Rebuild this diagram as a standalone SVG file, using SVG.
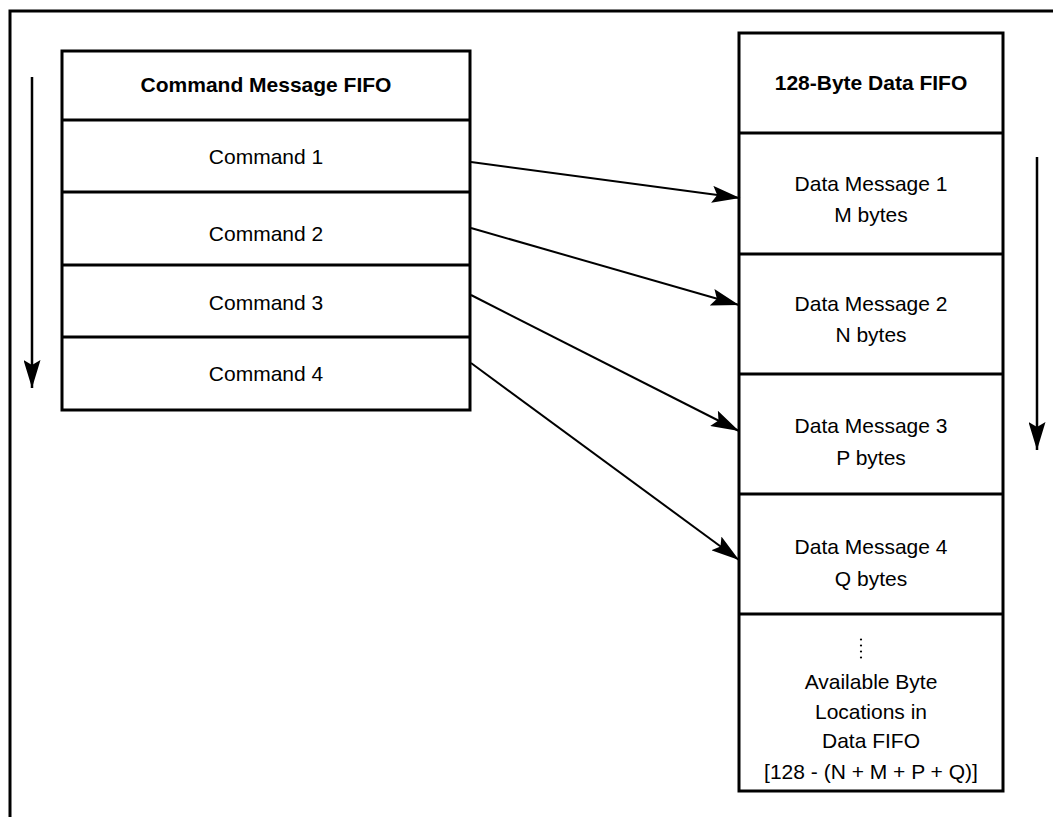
<svg xmlns="http://www.w3.org/2000/svg" width="1053" height="817" viewBox="0 0 1053 817">
<style>
.box{fill:#fff;stroke:#000;stroke-width:3}
.div{stroke:#000;stroke-width:3}
.frame{stroke:#000;stroke-width:3;fill:none}
.conn{stroke:#000;stroke-width:2;fill:none}
.flow{stroke:#000;stroke-width:2.5;fill:none}
text{font-family:"Liberation Sans",Arial,sans-serif;font-size:21px;fill:#000;text-anchor:middle}
.b{font-weight:bold}
</style>
<defs>
<marker id="ah" markerUnits="userSpaceOnUse" markerWidth="28" markerHeight="17" refX="28" refY="8.5" orient="auto" viewBox="0 0 28 17">
<path d="M0,0 L28,8.5 L0,17 L5,8.5 Z" fill="#000"/>
</marker>
</defs>
<rect width="1053" height="817" fill="#fff"/>
<g id="frame">
<path class="frame" d="M10,817 L10,11 L1053,11"/>
</g>
<g id="cmd-fifo">
<rect class="box" x="62" y="51" width="408" height="359"/>
<line class="div" x1="62" y1="120" x2="470" y2="120"/>
<line class="div" x1="62" y1="192" x2="470" y2="192"/>
<line class="div" x1="62" y1="265" x2="470" y2="265"/>
<line class="div" x1="62" y1="337" x2="470" y2="337"/>
<text class="b" x="266" y="92">Command Message FIFO</text>
<text x="266" y="164">Command 1</text>
<text x="266" y="241">Command 2</text>
<text x="266" y="310">Command 3</text>
<text x="266" y="381">Command 4</text>
</g>
<g id="data-fifo">
<rect class="box" x="739" y="33" width="264" height="758"/>
<line class="div" x1="739" y1="133" x2="1003" y2="133"/>
<line class="div" x1="739" y1="254" x2="1003" y2="254"/>
<line class="div" x1="739" y1="374" x2="1003" y2="374"/>
<line class="div" x1="739" y1="494" x2="1003" y2="494"/>
<line class="div" x1="739" y1="614" x2="1003" y2="614"/>
<text class="b" x="871" y="90">128-Byte Data FIFO</text>
<text x="871" y="191">Data Message 1</text>
<text x="871" y="222">M bytes</text>
<text x="871" y="311">Data Message 2</text>
<text x="871" y="342">N bytes</text>
<text x="871" y="433">Data Message 3</text>
<text x="871" y="465">P bytes</text>
<text x="871" y="554">Data Message 4</text>
<text x="871" y="586">Q bytes</text>
<g fill="#000">
<circle cx="861" cy="639.5" r="1.1"/>
<circle cx="861" cy="645.5" r="1.1"/>
<circle cx="861" cy="651.5" r="1.1"/>
<circle cx="861" cy="657.5" r="1.1"/>
</g>
<text x="871" y="689">Available Byte</text>
<text x="871" y="719">Locations in</text>
<text x="871" y="748">Data FIFO</text>
<text x="871" y="779">[128 - (N + M + P + Q)]</text>
</g>
<g id="connectors">
<line class="conn" x1="471" y1="162" x2="740" y2="198" marker-end="url(#ah)"/>
<line class="conn" x1="471" y1="228" x2="739" y2="305" marker-end="url(#ah)"/>
<line class="conn" x1="471" y1="295" x2="739" y2="431" marker-end="url(#ah)"/>
<line class="conn" x1="471" y1="363" x2="739" y2="560" marker-end="url(#ah)"/>
<line class="flow" x1="32" y1="77" x2="32" y2="388" marker-end="url(#ah)"/>
<line class="flow" x1="1037" y1="157" x2="1037" y2="450" marker-end="url(#ah)"/>
</g>
</svg>
